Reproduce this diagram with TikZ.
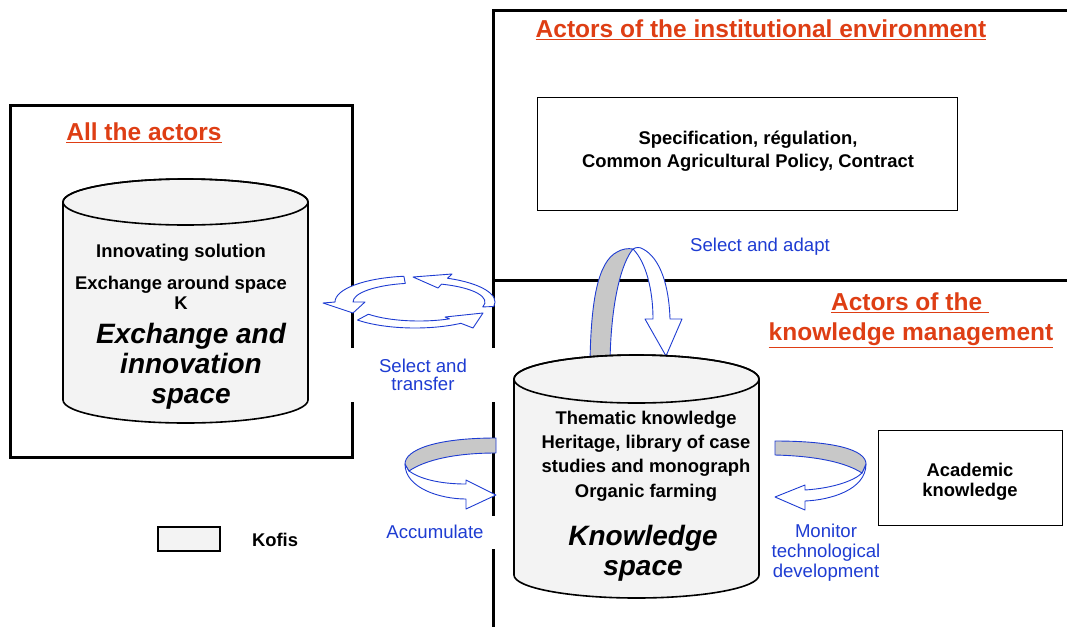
\documentclass[tikz,border=0pt]{standalone}
\usepackage{fontspec}
\setmainfont{Liberation Sans}
\definecolor{ttl}{RGB}{222,62,20}
\definecolor{blu}{RGB}{30,60,210}
\definecolor{band}{RGB}{200,200,200}
\definecolor{cyl}{RGB}{243,243,243}
\tikzset{
  frame/.style={line width=3pt, black},
  thinbox/.style={draw, line width=1pt},
  ttltext/.style={text=ttl, font=\fontsize{24.5}{32}\selectfont\bfseries, inner sep=0pt, align=center},
  body/.style={font=\fontsize{18.4}{20}\selectfont\bfseries, inner sep=0pt, align=center},
  bigtext/.style={font=\fontsize{28}{30}\selectfont\bfseries\itshape, inner sep=0pt, align=center},
  lbl/.style={text=blu, font=\fontsize{18.6}{18}\selectfont, inner sep=0pt, align=center},
  ribbon/.style={draw=blu, line width=0.9pt, fill=white, line join=round},
  ribbong/.style={ribbon, fill=band},
  cylstyle/.style={draw, line width=1.6pt, fill=cyl},
}
\begin{document}
\begin{tikzpicture}[x=1pt,y=-1pt]
\path[use as bounding box] (0,0) rectangle (1067,627);
% frames
\draw[frame] (10,105) rectangle (352,457);
\draw[frame] (1067,10) -- (493,10) -- (493,627);
\draw[frame] (493,280) -- (1067,280);
% inner boxes
\node[thinbox, minimum width=420, minimum height=113, inner sep=0pt] (inst) at (747,153.5) {};
\node[thinbox, minimum width=184, minimum height=95, inner sep=0pt] (acad) at (970,477.5) {};
\node[draw, line width=2.5pt, fill=cyl, minimum width=62, minimum height=24, inner sep=0pt] (kofisbox) at (189,539) {};
% circular arrows (Select and transfer)
\draw[ribbon] ([shift={(415,302)}]262:80 and 26) arc[start angle=262, end angle=180, x radius=80, y radius=26]
  -- (323,303) -- (353,313) -- (365,302) -- ([shift={(419,302)}]180:66 and 19)
  arc[start angle=180, end angle=258, x radius=66, y radius=19] -- cycle;
\draw[ribbon] ([shift={(415,302)}]10:80 and 26) arc[start angle=10, end angle=-66, x radius=80, y radius=26]
  -- (452,274) -- (413,277) -- (438,288) -- ([shift={(419,302)}]-70:66 and 19)
  arc[start angle=-70, end angle=15, x radius=66, y radius=19] -- cycle;
\draw[ribbon] ([shift={(415,302)}]136:80 and 26) arc[start angle=136, end angle=55, x radius=80, y radius=26]
  -- (473,328) -- (483,313) -- (445,317) -- ([shift={(419,302)}]62.5:66 and 19)
  arc[start angle=62.5, end angle=140, x radius=66, y radius=19] -- cycle;
% arch arrow (Select and adapt)
\draw[ribbon] (633,249) .. controls (646,262) and (653,290) .. (653,319) -- (645,319) -- (666,356) -- (682,319) -- (670,319)
  .. controls (669,285) and (660,258) .. (643,249) .. controls (640,247) and (636,247) .. (633,249) -- cycle;
\draw[ribbong] (590,362) .. controls (591,300) and (598,262) .. (617,252) .. controls (622,249) and (628,248) .. (633,249)
  .. controls (622,262) and (611,300) .. (610,362) -- cycle;
% accumulate arrow
\draw[ribbon] (405,464) .. controls (405,488) and (440,499) .. (466,499) -- (466,509) -- (496,495) -- (466,480) -- (466,484)
  .. controls (440,484) and (420,479) .. (409,471) -- cycle;
\draw[ribbong] (496,438) .. controls (435,438) and (405,450) .. (405,464) -- (409,471)
  .. controls (425,460) and (455,453) .. (496,453) -- cycle;
% monitor arrow
\draw[ribbon] (866,464) .. controls (866,490) and (830,500) .. (805,501) -- (805,510) -- (775,497) -- (805,485) -- (805,490)
  .. controls (835,488) and (855,480) .. (862,473) -- cycle;
\draw[ribbong] (775,441) .. controls (835,441) and (866,450) .. (866,464) -- (862,473)
  .. controls (845,462) and (815,456) .. (775,455) -- cycle;
% cylinders
\draw[cylstyle] (63,202) -- (63,400) arc[start angle=180, end angle=0, x radius=122.5, y radius=23]
  -- (308,202) arc[start angle=0, end angle=-180, x radius=122.5, y radius=23] -- cycle;
\draw[line width=1.6pt] (185.5,202) ellipse [x radius=122.5, y radius=23];
\draw[cylstyle] (514,379) -- (514,575) arc[start angle=180, end angle=0, x radius=122.5, y radius=23]
  -- (759,379) arc[start angle=0, end angle=-180, x radius=122.5, y radius=24] -- cycle;
\draw[line width=1.6pt] (636.5,379) ellipse [x radius=122.5, y radius=24];
% titles
\node[ttltext] (t1) at (761,30) {\underline{Actors of the institutional environment}};
\node[ttltext] (t2) at (144,133) {\underline{All the actors}};
\node[ttltext] (t3a) at (910,303) {\underline{Actors of the\ }};
\node[ttltext] (t3b) at (911,335) {\underline{knowledge management}};
% box texts
\node[body, font=\fontsize{18.4}{23}\selectfont\bfseries] (instx) at (748,151) {Specification, r\'egulation,\\Common Agricultural Policy, Contract};
\node[body] (acadx) at (970,482) {Academic\\knowledge};
\node[body] (kofis) at (275,540) {Kofis};
% left cylinder texts
\node[body] (l1) at (181,253) {Innovating solution};
\node[body] (l2) at (181,293) {Exchange around space\\K};
\node[bigtext] (l3) at (191,366) {Exchange and\\innovation\\space};
% right cylinder texts
\node[body, font=\fontsize{18.4}{24.3}\selectfont\bfseries] (r1) at (646,456) {Thematic knowledge\\Heritage, library of case\\studies and monograph\\Organic farming};
\node[bigtext] (r2) at (643,553) {Knowledge\\space};
% blue labels
\node[lbl] (sa) at (760,247) {Select and adapt};
\node[lbl, fill=white, minimum width=147, minimum height=54] (st) at (423,375) {Select and\\transfer};
\node[lbl, fill=white, minimum width=122, minimum height=33] (acc) at (435,532) {Accumulate};
\node[lbl, font=\fontsize{18.6}{20}\selectfont] (mon) at (826,553) {Monitor\\technological\\development};
\end{tikzpicture}
\end{document}
